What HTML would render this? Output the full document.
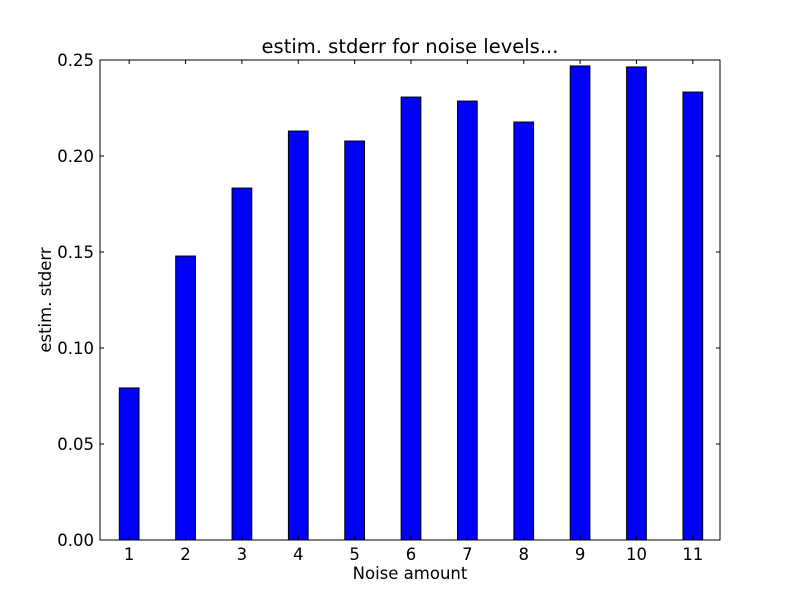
<!DOCTYPE html>
<html><head><meta charset="utf-8"><style>
body{margin:0;background:#fff;}
svg{display:block;font-family:"DejaVu Sans","Liberation Sans",sans-serif;}
</style></head><body>
<svg id="chart" width="800" height="600">
<rect width="800" height="600" fill="#fff"/>
<text x="410" y="53" font-size="19.5" text-anchor="middle">estim. stderr for noise levels...</text>
<text x="410" y="579" font-size="16.5" text-anchor="middle">Noise amount</text>
<text transform="translate(51,300) rotate(-90)" font-size="16.5" text-anchor="middle">estim. stderr</text>
<g id="bars"></g>
<g id="ticks"></g>
<rect x="100" y="60" width="620" height="480" fill="none" stroke="#000" stroke-width="1"/>
</svg>
<script>
const categories = [1,2,3,4,5,6,7,8,9,10,11];
const values = [0.0792,0.1479,0.1833,0.2130,0.2078,0.2307,0.2286,0.2177,0.2469,0.2464,0.2333];
const yTicks = [0,0.05,0.10,0.15,0.20,0.25];
const yTickLabels = ["0.00","0.05","0.10","0.15","0.20","0.25"];
const L=100,R=720,T=60,B=540;
const x = v => L + (v-0.5)/11*(R-L);
const y = v => B - v/0.25*(B-T);
const NS="http://www.w3.org/2000/svg";
const bars=document.getElementById('bars'), ticks=document.getElementById('ticks');
function mk(tag,attrs,parent){const e=document.createElementNS(NS,tag);for(const k in attrs)e.setAttribute(k,attrs[k]);parent.appendChild(e);return e;}
const bw = 0.35/11*(R-L);
categories.forEach((c,i)=>{
  const r=mk('rect',{x:x(c)-bw/2+1,y:y(values[i]),width:bw,height:B-y(values[i]),fill:'#0000ff',stroke:'#000','stroke-width':1},bars);
  
  
  const l1=mk('line',{x1:x(c)+1,x2:x(c)+1,y1:B,y2:B-4,stroke:'#000'},ticks);
  
  
  const l2=mk('line',{x1:x(c)+1,x2:x(c)+1,y1:T,y2:T+4,stroke:'#000'},ticks);
  
  
  const t=mk('text',{x:x(c)+1,y:B+20,'font-size':16.5,'text-anchor':'middle'},ticks);
  t.textContent=c;
  
  
});
yTicks.forEach((v,i)=>{
  const l1=mk('line',{x1:L,x2:L+4,y1:y(v),y2:y(v),stroke:'#000'},ticks);
  
  
  const l2=mk('line',{x1:R,x2:R-4,y1:y(v),y2:y(v),stroke:'#000'},ticks);
  
  
  const t=mk('text',{x:L-6,y:y(v)+6,'font-size':16.5,'text-anchor':'end'},ticks);
  t.textContent=yTickLabels[i];
  
  
});
</script>
</body></html>
